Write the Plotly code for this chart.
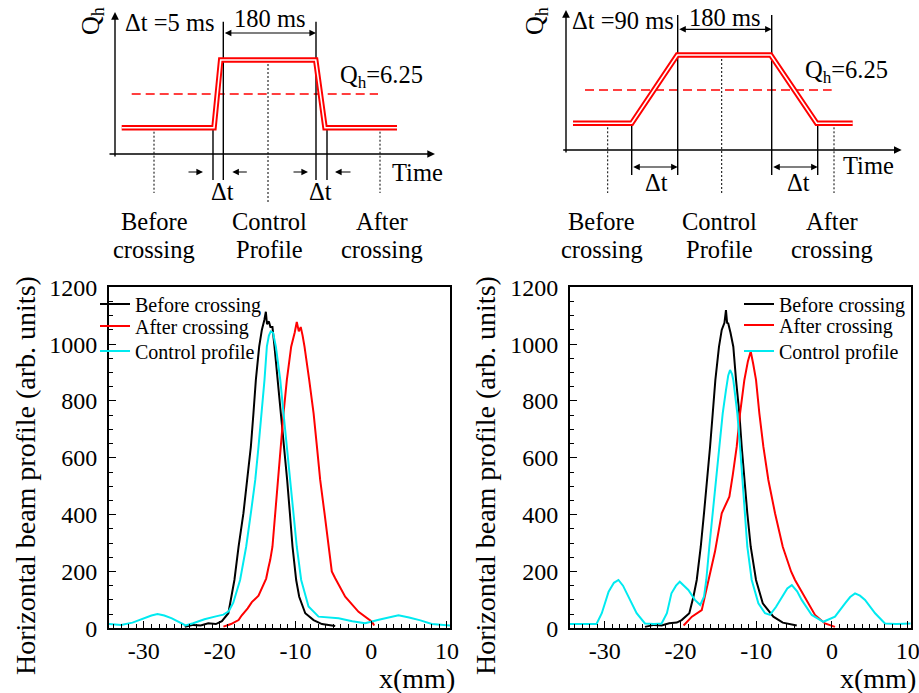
import plotly.graph_objects as go

FONT = "Liberation Serif"
W, H = 919, 693
CYAN = "#00eaf0"

# ---------------- Beam profiles (bottom panels) ----------------
x_range = [-34.6, 10.4]
x_ticks = [-30, -20, -10, 0, 10]
y_range = [0, 1200]
y_ticks = [0, 200, 400, 600, 800, 1000, 1200]

# Δt = 5 ms (left panel)
l_before_x = [-24.6, -23.5, -22.5, -21.5, -20.5, -19.7, -18.85, -18.05, -17.5, -16.86, -16.37, -15.88,
              -15.54, -15.22, -14.78, -14.43, -14.1, -13.9, -13.75, -13.5, -13.3, -13.03, -12.76, -12.32,
              -11.92, -11.48, -11.09, -10.73, -10.38, -9.9, -9.5, -8.7, -7.6, -6.5, -5.5, -4.75]
l_before_y = [5, 12, 10, 18, 15, 25, 53, 170, 287, 405, 522, 639,
              756, 874, 991, 1050, 1085, 1114, 1070, 1080, 1060, 1060, 991, 874,
              756, 639, 522, 405, 287, 170, 111, 53, 29, 15, 12, 8]

l_after_x = [-19.5, -18.5, -17.5, -17.1, -16.3, -15.75, -14.87, -14.4, -13.86, -13.55, -13.33, -13.03,
             -12.67, -12.32, -12.0, -11.57, -11.13, -10.56, -10.1, -9.82, -9.55, -9.3, -9.05, -8.8,
             -8.18, -7.6, -7.16, -6.73, -6.16, -5.63, -5.2, -4.75, -3.43, -1.67, 0.1, 0.4]
l_after_y = [6, 15, 29, 45, 70, 92, 115, 146, 175, 215, 240, 287,
             405, 522, 639, 756, 874, 991, 1040, 1078, 1045, 1060, 1030, 991,
             874, 756, 639, 522, 405, 287, 200, 176, 111, 58, 23, 10]

l_ctrl_x = [-34.6, -33.0, -31.5, -30.0, -29.0, -28.2, -27.3, -26.3, -25.3, -24.5, -23.5, -22.0,
            -20.5, -19.5, -18.8, -18.2, -17.3, -16.5, -15.88, -15.3, -14.87, -14.43, -14.08, -13.77,
            -13.5, -13.25, -12.95, -12.58, -12.0, -11.57, -11.13, -10.7, -10.26, -9.82, -9.24, -8.27,
            -6.95, -5.5, -4.3, -2.5, -0.8, 1.0, 2.5, 3.6, 5.0, 6.5, 8.0, 10.4]
l_ctrl_y = [15, 12, 20, 35, 45, 50, 45, 35, 22, 10, 18, 32,
            42, 48, 60, 90, 170, 287, 405, 522, 639, 756, 874, 991,
            1030, 1045, 1040, 991, 874, 756, 639, 522, 405, 287, 170, 77,
            41, 38, 35, 25, 18, 30, 40, 46, 38, 28, 15, 10]

# Δt = 90 ms (right panel)
r_before_x = [-24.7, -23.5, -22.5, -21.5, -20.5, -19.85, -18.84, -18.3, -17.86, -17.33, -16.9, -16.46,
              -16.1, -15.75, -15.4, -14.92, -14.56, -14.2, -14.0, -13.85, -13.7, -13.4, -13.03, -12.67,
              -12.23, -11.92, -11.57, -11.18, -10.73, -10.03, -9.14, -7.74, -6.5, -5.5, -4.65]
r_before_y = [5, 12, 10, 18, 20, 29, 53, 111, 170, 287, 405, 522,
              639, 756, 874, 991, 1050, 1075, 1120, 1075, 1073, 1040, 991, 874,
              756, 639, 522, 405, 287, 170, 88, 41, 20, 15, 10]

r_after_x = [-19.6, -18.5, -17.2, -16.5, -15.45, -14.56, -13.9, -13.55, -13.1, -12.58, -12.14, -11.57,
             -11.1, -10.73, -10.4, -10.03, -9.59, -9.06, -8.4, -7.52, -6.5, -5.4, -4.88, -3.56,
             -2.24, -0.92, 0.4]
r_after_y = [10, 41, 64, 150, 270, 405, 440, 463, 540, 639, 756, 874,
             940, 974, 930, 874, 756, 639, 522, 405, 287, 200, 170, 106,
             47, 17, 5]

r_ctrl_x = [-34.6, -33.0, -31.1, -30.4, -29.5, -28.8, -28.2, -27.6, -26.9, -25.8, -24.7, -23.5,
            -22.5, -21.8, -21.2, -20.6, -20.1, -19.5, -18.97, -18.1, -17.4, -16.9, -16.6, -16.2,
            -15.75, -15.3, -14.88, -14.43, -14.0, -13.7, -13.46, -13.2, -13.03, -12.5, -12.14, -11.84,
            -11.48, -11.18, -10.6, -9.72, -8.84, -8.18, -7.4, -6.63, -5.9, -5.3, -4.6, -4.0,
            -2.67, -1.14, 0.4, 1.73, 2.4, 3.05, 3.7, 4.37, 5.7, 7.0, 8.5, 10.4]
r_ctrl_y = [15, 15, 15, 53, 129, 160, 170, 150, 111, 53, 17, 15,
            17, 53, 123, 150, 164, 150, 135, 100, 82, 111, 170, 287,
            405, 522, 639, 756, 838, 890, 909, 895, 874, 756, 639, 522,
            405, 287, 170, 88, 53, 47, 75, 111, 140, 152, 130, 100,
            47, 23, 41, 88, 110, 123, 115, 100, 53, 17, 15, 17]

series_names = ["Before crossing", "After crossing", "Control profile"]
series_colors = ["black", "#ff0000", CYAN]

# ---------------- Schematics (top panels), schematic units ----------------
Q_LOW_L, Q_HIGH_L, Q_RES_L = 26.3, 94.0, 60.0
Q_LOW_R, Q_HIGH_R, Q_RES_R = 26.7, 95.0, 60.0

sL_prog_t = [6.7, 99.0, 105.7, 200.7, 210.0, 282.0]
sL_prog_q = [Q_LOW_L, Q_LOW_L, Q_HIGH_L, Q_HIGH_L, Q_LOW_L, Q_LOW_L]
sL_res_t = [16.7, 263.0]
sL_edge_t = [98.0, 108.3, 201.0, 212.0]
sL_edge_top = [24.0, 132.3, 132.3, 24.0]
sL_sample_t = [39.0, 153.0, 265.0]
sL_sample_top = [Q_LOW_L, Q_HIGH_L, Q_LOW_L]
sL_sample_bot = [-39.0, -49.0, -39.0]

sR_prog_t = [7.0, 65.7, 111.3, 204.7, 250.7, 286.7]
sR_prog_q = [Q_LOW_R, Q_LOW_R, Q_HIGH_R, Q_HIGH_R, Q_LOW_R, Q_LOW_R]
sR_res_t = [19.0, 265.7]
sR_edge_t = [65.7, 111.7, 205.7, 251.7]
sR_edge_top = [Q_LOW_R, 135.0, 135.0, Q_LOW_R]
sR_sample_t = [41.7, 155.7, 268.0]
sR_sample_top = [Q_LOW_R, Q_HIGH_R, Q_LOW_R]
sR_sample_bot = [-43.0, -43.0, -43.0]

fig = go.Figure()

panels = [
    ("x", "y", ["legend", "legend2", "legend3"],
     [(l_before_x, l_before_y), (l_after_x, l_after_y), (l_ctrl_x, l_ctrl_y)]),
    ("x2", "y2", ["legend4", "legend5", "legend6"],
     [(r_before_x, r_before_y), (r_after_x, r_after_y), (r_ctrl_x, r_ctrl_y)]),
]
for xa, ya, legs, data in panels:
    for (xs, ys), name, col, leg in zip(data, series_names, series_colors, legs):
        fig.add_trace(go.Scatter(x=xs, y=ys, mode="lines", name=name, xaxis=xa, yaxis=ya,
                                 legend=leg, line=dict(color=col, width=2)))


def seg(xs_a, xs_b, ys_a, ys_b):
    xx, yy = [], []
    for a, b, c, d in zip(xs_a, xs_b, ys_a, ys_b):
        xx += [a, b, None]
        yy += [c, d, None]
    return xx, yy


def schematic(xa, ya, prog_t, prog_q, res_t, q_res, edge_t, edge_top, edge_bot,
              samp_t, samp_top, samp_bot):
    fig.add_trace(go.Scatter(x=res_t, y=[q_res] * len(res_t), mode="lines", xaxis=xa, yaxis=ya,
                             showlegend=False, hoverinfo="skip",
                             line=dict(color="#ff0000", width=1.3, dash="9px,5px")))
    ex, ey = seg(edge_t, edge_t, edge_top, [edge_bot] * len(edge_t))
    fig.add_trace(go.Scatter(x=ex, y=ey, mode="lines", xaxis=xa, yaxis=ya, showlegend=False,
                             hoverinfo="skip", line=dict(color="black", width=1.4)))
    sx, sy = seg(samp_t, samp_t, samp_top, samp_bot)
    fig.add_trace(go.Scatter(x=sx, y=sy, mode="lines", xaxis=xa, yaxis=ya, showlegend=False,
                             hoverinfo="skip", line=dict(color="black", width=1, dash="2px,2px")))
    fig.add_trace(go.Scatter(x=prog_t, y=prog_q, mode="lines", xaxis=xa, yaxis=ya, showlegend=False,
                             hoverinfo="skip", line=dict(color="#ff0000", width=5.5)))
    fig.add_trace(go.Scatter(x=prog_t, y=prog_q, mode="lines", xaxis=xa, yaxis=ya, showlegend=False,
                             hoverinfo="skip", line=dict(color="white", width=1.6)))


schematic("x3", "y3", sL_prog_t, sL_prog_q, sL_res_t, Q_RES_L, sL_edge_t, sL_edge_top, -26.0,
          sL_sample_t, sL_sample_top, sL_sample_bot)
schematic("x4", "y4", sR_prog_t, sR_prog_q, sR_res_t, Q_RES_R, sR_edge_t, sR_edge_top, -25.0,
          sR_sample_t, sR_sample_top, sR_sample_bot)


def fx(px):
    return px / W


def fy(py):
    return 1 - py / H


TICKFONT = dict(family=FONT, size=24, color="black")


def xaxis_def(dom, anchor):
    return dict(domain=dom, anchor=anchor, range=x_range, tickmode="array", tickvals=x_ticks,
                ticktext=[str(v) for v in x_ticks],
                tickfont=TICKFONT, ticklabeloverflow="allow",
                showline=True, linewidth=2, linecolor="black", mirror=True,
                ticks="inside", ticklen=7, tickwidth=1.2, tickcolor="black",
                showgrid=False, zeroline=False, automargin=False, fixedrange=True,
                minor=dict(ticks="inside", ticklen=4, dtick=1, tick0=0, tickcolor="black",
                           tickwidth=1, showgrid=False))


def yaxis_def(dom, anchor):
    return dict(domain=dom, anchor=anchor, range=y_range, tickmode="array", tickvals=y_ticks,
                ticktext=[str(v) for v in y_ticks],
                tickfont=TICKFONT, ticklabeloverflow="allow", ticklabelstandoff=5,
                showline=True, linewidth=2, linecolor="black", mirror=True,
                ticks="inside", ticklen=7, tickwidth=1.2, tickcolor="black",
                showgrid=False, zeroline=False, automargin=False, fixedrange=True,
                minor=dict(ticks="inside", ticklen=4, dtick=50, tick0=0, tickcolor="black",
                           tickwidth=1, showgrid=False))


ydom = [fy(628.3), fy(287.3)]
hidden = dict(visible=False, fixedrange=True, showgrid=False, zeroline=False)


def leg_at(px, py):
    return dict(x=fx(px), y=fy(py), xanchor="left", yanchor="middle", bgcolor="rgba(0,0,0,0)",
                font=dict(family=FONT, size=20, color="black"), borderwidth=0)


fig.update_layout(
    width=W, height=H, margin=dict(l=0, r=0, t=0, b=0),
    paper_bgcolor="white", plot_bgcolor="white",
    font=dict(family=FONT, size=24, color="black"),
    xaxis=xaxis_def([fx(109), fx(450)], "y"),
    yaxis=yaxis_def(ydom, "x"),
    xaxis2=xaxis_def([fx(570), fx(910.7)], "y2"),
    yaxis2=yaxis_def(ydom, "x2"),
    xaxis3=dict(hidden, domain=[0, fx(460)], range=[-115, 345], anchor="y3"),
    yaxis3=dict(hidden, domain=[fy(270), 1], range=[-116, 154], anchor="x3"),
    xaxis4=dict(hidden, domain=[fx(460), 1], range=[-106, 353], anchor="y4"),
    yaxis4=dict(hidden, domain=[fy(270), 1], range=[-120, 150], anchor="x4"),
    legend=leg_at(95, 304),
    legend2=leg_at(95, 326),
    legend3=leg_at(95, 351),
    legend4=leg_at(739, 304),
    legend5=leg_at(739, 325),
    legend6=leg_at(739, 351),
    showlegend=True,
)

ann = []
for cx in (25, 485):
    ann.append(dict(text="Horizontal beam profile (arb. units)", textangle=-90, xref="paper",
                    yref="paper", x=fx(cx), y=fy(476), xanchor="center", yanchor="middle",
                    showarrow=False, font=dict(family=FONT, size=28, color="black")))
for cx in (417, 878):
    ann.append(dict(text="x(mm)", xref="paper", yref="paper", x=fx(cx), y=fy(678),
                    xanchor="center", yanchor="middle",
                    showarrow=False, font=dict(family=FONT, size=28, color="black")))


def arrow(xa, ya, tip, tail, both=False, width=1.4):
    d = dict(xref=xa, yref=ya, axref=xa, ayref=ya, x=tip[0], y=tip[1], ax=tail[0], ay=tail[1],
             text="", showarrow=True, arrowhead=2, arrowsize=1.1, arrowwidth=width,
             arrowcolor="black", standoff=0, startstandoff=0)
    if both:
        d["arrowside"] = "end+start"
        d["startarrowhead"] = 2
        d["startarrowsize"] = 1.1
    return d


def label(xa, ya, x, y, text, size=24.5, xanchor="center", angle=0):
    return dict(xref=xa, yref=ya, x=x, y=y, text=text, showarrow=False, xanchor=xanchor,
                yanchor="middle", textangle=angle, font=dict(family=FONT, size=size, color="black"))


ann += [
    arrow("x3", "y3", (0, 142), (0, -4)),
    arrow("x3", "y3", (320, 0), (-7, 0)),
    arrow("x3", "y3", (sL_edge_t[2], 121), (sL_edge_t[1], 121), both=True, width=1.2),
    arrow("x3", "y3", (sL_edge_t[0] - 10, -18), (sL_edge_t[0] - 26, -18), width=1.2),
    arrow("x3", "y3", (sL_edge_t[1] + 9, -18), (sL_edge_t[1] + 25, -18), width=1.2),
    arrow("x3", "y3", (sL_edge_t[2] - 8, -18), (sL_edge_t[2] - 24, -18), width=1.2),
    arrow("x3", "y3", (sL_edge_t[3] + 8, -18), (sL_edge_t[3] + 25, -18), width=1.2),
    label("x3", "y3", -23, 133, "Q<sub>h</sub>", size=26, angle=-90),
    label("x3", "y3", 8, 132, "Δt =5 ms", xanchor="left"),
    label("x3", "y3", (sL_edge_t[1] + sL_edge_t[2]) / 2, 136, "180 ms"),
    label("x3", "y3", 223, 78, "Q<sub>h</sub>=6.25", xanchor="left"),
    label("x3", "y3", 302, -18, "Time"),
    label("x3", "y3", 107, -37, "Δt"),
    label("x3", "y3", 205, -37, "Δt"),
    label("x3", "y3", sL_sample_t[0], -67, "Before"),
    label("x3", "y3", sL_sample_t[0], -95, "crossing"),
    label("x3", "y3", sL_sample_t[1] + 1, -67, "Control"),
    label("x3", "y3", sL_sample_t[1] + 1, -95, "Profile"),
    label("x3", "y3", sL_sample_t[2] + 2, -67, "After"),
    label("x3", "y3", sL_sample_t[2] + 2, -95, "crossing"),
]
ann += [
    arrow("x4", "y4", (0, 140), (0, -4)),
    arrow("x4", "y4", (335.7, 0), (-4.3, 0)),
    arrow("x4", "y4", (sR_edge_t[2], 120.7), (sR_edge_t[1], 120.7), both=True, width=1.2),
    arrow("x4", "y4", (sR_edge_t[1], -17), (sR_edge_t[0], -17), both=True, width=1.2),
    arrow("x4", "y4", (sR_edge_t[3], -17), (sR_edge_t[2], -17), both=True, width=1.2),
    label("x4", "y4", -30, 129, "Q<sub>h</sub>", size=26, angle=-90),
    label("x4", "y4", 4, 130, "Δt =90 ms", xanchor="left"),
    label("x4", "y4", (sR_edge_t[1] + sR_edge_t[2]) / 2, 133, "180 ms"),
    label("x4", "y4", 237, 79, "Q<sub>h</sub>=6.25", xanchor="left"),
    label("x4", "y4", 302, -15, "Time"),
    label("x4", "y4", 90.7, -32, "Δt"),
    label("x4", "y4", 232, -32, "Δt"),
    label("x4", "y4", sR_sample_t[0] - 6, -71, "Before"),
    label("x4", "y4", sR_sample_t[0] - 6, -99, "crossing"),
    label("x4", "y4", sR_sample_t[1] - 2, -71, "Control"),
    label("x4", "y4", sR_sample_t[1] - 2, -99, "Profile"),
    label("x4", "y4", sR_sample_t[2] - 2, -71, "After"),
    label("x4", "y4", sR_sample_t[2] - 2, -99, "crossing"),
]
fig.update_layout(annotations=ann)

fig.write_html("out.html", config={"displayModeBar": False},
               post_script="document.body.style.margin='0';")
